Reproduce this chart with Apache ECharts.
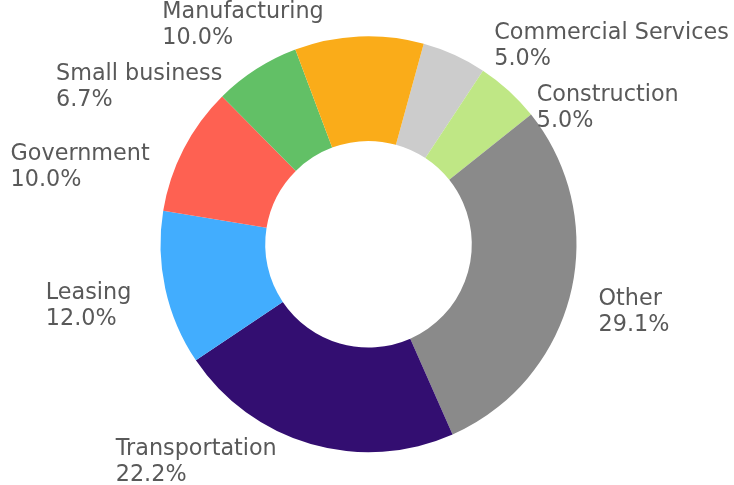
<!DOCTYPE html>
<html>
<head>
<meta charset="utf-8">
<script src="https://cdn.jsdelivr.net/npm/echarts@6/dist/echarts.min.js"></script>
<style>
  html, body { margin: 0; padding: 0; background: #ffffff; }
  #chart { width: 734px; height: 485px; }
</style>
</head>
<body>
<div id="chart"></div>
<script>
// Portfolio split by sector (percent of total), listed clockwise
const sectors = ['Commercial Services', 'Construction', 'Other', 'Transportation',
                 'Leasing', 'Government', 'Small business', 'Manufacturing'];
const shares = [5.0, 5.0, 29.1, 22.2, 12.0, 10.0, 6.7, 10.0];
const sectorColors = ['#cccccc', '#bfe785', '#8a8a8a', '#330e71',
                      '#42adfe', '#fe6152', '#62c066', '#faac19'];

// Ring geometry (pixels)
const CX = 368.5, CY = 244.3, R_OUT = 208, R_IN = 103.3;
const START_DEG = 15.4;            // first slice starts this far clockwise from 12 o'clock

// Label styling / placement
const FONT_SIZE = 22.3, LINE_H = 26;
const FONT_FAMILY = '"DejaVu Sans", Verdana, sans-serif';
const LABEL_COLOR = '#595959';
const LABEL_GAP_X = 31;            // horizontal gap between rim point and label block
const LABEL_SHIFT_X = -3;          // small common horizontal offset of all label blocks
const LABEL_DROP = 8;              // block top sits this far above the rim point
const STACK_GAP = 10;              // minimum spacing when labels are stacked

function labelText(i) {
  return sectors[i] + '\n' + shares[i].toFixed(1) + '%';
}

const measureCtx = document.createElement('canvas').getContext('2d');
measureCtx.font = FONT_SIZE + 'px ' + FONT_FAMILY;
function textWidth(s) { return measureCtx.measureText(s).width; }

// Place each label block beside its slice's rim midpoint, then push
// crowded labels outward (along their own radius) away from the equator.
function computeLabelBoxes() {
  const total = shares.reduce((a, b) => a + b, 0);
  let acc = 0;
  const boxes = shares.map((v, i) => {
    const mid = (START_DEG + (acc + v / 2) / total * 360) * Math.PI / 180;
    acc += v;
    const nx = Math.sin(mid), ny = -Math.cos(mid);
    const px = CX + nx * R_OUT, py = CY + ny * R_OUT;
    const lines = labelText(i).split('\n');
    const w = Math.max.apply(null, lines.map(textWidth));
    const h = lines.length * LINE_H;
    const x = (nx >= 0 ? px + LABEL_GAP_X : px - LABEL_GAP_X - w) + LABEL_SHIFT_X;
    const y = py - LABEL_DROP;
    return { i, nx, ny, x, y, w, h };
  });
  [true, false].forEach(right => {
    [true, false].forEach(top => {
      const group = boxes.filter(b => (b.nx >= 0) === right && (b.ny < 0) === top);
      group.sort((a, b) => top ? b.y - a.y : a.y - b.y);
      for (let k = 1; k < group.length; k++) {
        const prev = group[k - 1], cur = group[k];
        const overlapX = cur.x < prev.x + prev.w && prev.x < cur.x + cur.w;
        if (!overlapX) continue;
        const need = top
          ? (cur.y + cur.h + STACK_GAP) - prev.y
          : (prev.y + prev.h + STACK_GAP) - cur.y;
        if (need > 0) {
          const t = need / Math.abs(cur.ny);
          cur.x += cur.nx * t;
          cur.y += cur.ny * t;
        }
      }
    });
  });
  return boxes;
}

const labelBoxes = computeLabelBoxes();

const chart = echarts.init(document.getElementById('chart'), null, { renderer: 'canvas' });
chart.setOption({
  animation: false,
  backgroundColor: '#ffffff',
  series: [{
    type: 'pie',
    center: [CX, CY],
    radius: [R_IN, R_OUT],
    startAngle: 90 - START_DEG,
    clockwise: true,
    avoidLabelOverlap: false,
    silent: true,
    data: sectors.map((name, i) => ({
      name: name,
      value: shares[i],
      itemStyle: { color: sectorColors[i] }
    })),
    itemStyle: { borderWidth: 0 },
    label: {
      show: true,
      position: 'outside',
      formatter: p => labelText(p.dataIndex),
      color: LABEL_COLOR,
      fontSize: FONT_SIZE,
      fontFamily: FONT_FAMILY,
      lineHeight: LINE_H,
      width: 300,
      overflow: 'none'
    },
    labelLine: { show: false, length: 0, length2: 0 },
    labelLayout: function (params) {
      const b = labelBoxes[params.dataIndex];
      return { x: b.x, y: b.y, align: 'left', verticalAlign: 'top' };
    }
  }]
});
</script>
</body>
</html>
